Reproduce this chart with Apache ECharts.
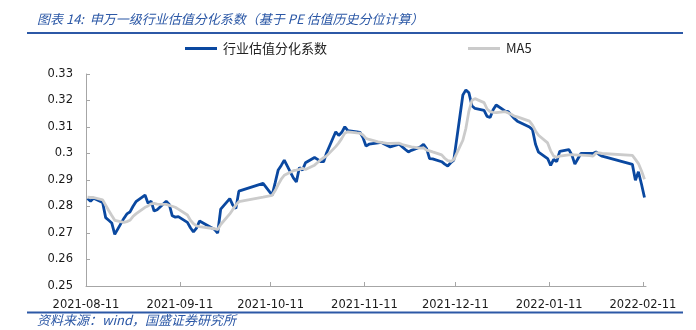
<!DOCTYPE html>
<html>
<head>
<meta charset="utf-8">
<script src="https://cdn.jsdelivr.net/npm/echarts@6/dist/echarts.min.js"></script>
<style>
  html, body { margin: 0; padding: 0; background: #ffffff; }
  #chart { width: 696px; height: 330px; }
</style>
</head>
<body>
<div id="chart"></div>
<script>
// Trading days covered by the series
const tradeDates = [
  '2021-08-11','2021-08-12','2021-08-13','2021-08-16','2021-08-17','2021-08-18','2021-08-19','2021-08-20',
  '2021-08-23','2021-08-24','2021-08-25','2021-08-26','2021-08-27','2021-08-30','2021-08-31',
  '2021-09-01','2021-09-02','2021-09-03','2021-09-06','2021-09-07','2021-09-08','2021-09-09','2021-09-10',
  '2021-09-13','2021-09-14','2021-09-15','2021-09-16','2021-09-17','2021-09-22','2021-09-23','2021-09-24',
  '2021-09-27','2021-09-28','2021-09-29','2021-09-30',
  '2021-10-08','2021-10-11','2021-10-12','2021-10-13','2021-10-14','2021-10-15','2021-10-18','2021-10-19',
  '2021-10-20','2021-10-21','2021-10-22','2021-10-25','2021-10-26','2021-10-27','2021-10-28','2021-10-29',
  '2021-11-01','2021-11-02','2021-11-03','2021-11-04','2021-11-05','2021-11-08','2021-11-09','2021-11-10',
  '2021-11-11','2021-11-12','2021-11-15','2021-11-16','2021-11-17','2021-11-18','2021-11-19','2021-11-22',
  '2021-11-23','2021-11-24','2021-11-25','2021-11-26','2021-11-29','2021-11-30',
  '2021-12-01','2021-12-02','2021-12-03','2021-12-06','2021-12-07','2021-12-08','2021-12-09','2021-12-10',
  '2021-12-13','2021-12-14','2021-12-15','2021-12-16','2021-12-17','2021-12-20','2021-12-21','2021-12-22',
  '2021-12-23','2021-12-24','2021-12-27','2021-12-28','2021-12-29','2021-12-30','2021-12-31',
  '2022-01-04','2022-01-05','2022-01-06','2022-01-07','2022-01-10','2022-01-11','2022-01-12','2022-01-13',
  '2022-01-14','2022-01-17','2022-01-18','2022-01-19','2022-01-20','2022-01-21','2022-01-24','2022-01-25',
  '2022-01-26','2022-01-27','2022-01-28',
  '2022-02-07','2022-02-08','2022-02-09','2022-02-10','2022-02-11'
];

// 行业估值分化系数
const dispersion = [
  0.2830,0.2820,0.2831,0.2815,0.2758,0.2748,0.2738,0.2695,
  0.2755,0.2772,0.2779,0.2800,0.2818,0.2843,0.2812,
  0.2820,0.2783,0.2788,0.2820,0.2808,0.2765,0.2760,0.2762,
  0.2740,0.2720,0.2704,0.2718,0.2745,0.2713,0.2700,0.2790,
  0.2830,0.2805,0.2792,0.2858,
  0.2887,0.2843,0.2890,0.2938,0.2955,0.2975,0.2908,0.2893,
  0.2947,0.2937,0.2965,0.2985,0.2978,0.2969,0.2969,0.3003,
  0.3082,0.3068,0.3080,0.3101,0.3086,0.3082,0.3080,0.3060,
  0.3028,0.3035,0.3040,0.3042,0.3036,0.3030,0.3025,0.3035,
  0.3025,0.3015,0.3006,0.3012,0.3025,0.3035,
  0.3019,0.2981,0.2980,0.2969,0.2960,0.2953,0.2965,0.2975,
  0.3221,0.3240,0.3229,0.3180,0.3170,0.3163,0.3140,0.3136,
  0.3165,0.3183,0.3160,0.3158,0.3145,0.3132,0.3122,
  0.3100,0.3090,0.3035,0.3005,0.2981,0.2955,0.2978,0.2969,
  0.3008,0.3015,0.2995,0.2960,0.2980,0.3000,0.3000,0.3000,
  0.3006,0.2996,0.2990,
  0.2959,0.2899,0.2931,0.2885,0.2834
];

// MA5
const ma5 = [
  0.2835,0.2834,0.2834,0.2825,0.2805,0.2785,0.2766,0.2748,
  0.2740,0.2743,0.2748,0.2762,0.2772,0.2797,0.2802,
  0.2810,0.2812,0.2809,0.2808,0.2804,0.2801,0.2797,0.2790,
  0.2768,0.2748,0.2735,0.2727,0.2724,0.2716,0.2713,0.2732,
  0.2772,0.2789,0.2805,0.2818,
  0.2835,0.2842,0.2860,0.2883,0.2903,0.2918,0.2935,0.2937,
  0.2940,0.2944,0.2940,0.2956,0.2966,0.2976,0.2984,0.2991,
  0.3026,0.3040,0.3057,0.3077,0.3082,0.3078,0.3077,0.3070,
  0.3057,0.3053,0.3044,0.3042,0.3040,0.3038,0.3038,0.3039,
  0.3034,0.3031,0.3028,0.3025,0.3020,0.3021,
  0.3013,0.3010,0.3006,0.2995,0.2982,0.2973,0.2970,0.2977,
  0.3050,0.3095,0.3160,0.3200,0.3207,0.3192,0.3168,0.3158,
  0.3155,0.3154,0.3158,0.3153,0.3148,0.3141,0.3138,
  0.3122,0.3107,0.3085,0.3069,0.3040,0.3010,0.2990,0.2986,
  0.2990,0.2995,0.2996,0.2995,0.2994,0.2994,0.2992,0.2990,
  0.3002,0.3002,0.3000,
  0.2993,0.2978,0.2962,0.2935,0.2903
];

// Date axis labels and its range
const xTickDates = ['2021-08-11','2021-09-11','2021-10-11','2021-11-11','2021-12-11','2022-01-11','2022-02-11'];
const xRange = ['2021-08-11', '2022-02-12'];
const yMin = 0.25, yMax = 0.33, yStep = 0.01;

const seriesNames = ['行业估值分化系数', 'MA5'];
const titleText = '图表 14:  申万一级行业估值分化系数（基于 PE 估值历史分位计算）';
const sourceText = '资料来源：wind，国盛证券研究所';

// The x axis counts calendar days from the first date of the range
const DAY = 24 * 3600 * 1000;
const utc = s => { const p = s.split('-').map(Number); return Date.UTC(p[0], p[1] - 1, p[2]); };
const origin = utc(xRange[0]);
const dayOf = s => Math.round((utc(s) - origin) / DAY);
const pad = n => (n < 10 ? '0' : '') + n;
const dateOf = day => {
  const d = new Date(origin + Math.round(day) * DAY);
  return d.getUTCFullYear() + '-' + pad(d.getUTCMonth() + 1) + '-' + pad(d.getUTCDate());
};
// each day's point sits in the middle of its day slot
const toSeries = vals => tradeDates.map((d, i) => [dayOf(d) + 0.5, vals[i]]);
const xTickDays = xTickDates.map(dayOf);

const BRAND = '#2c58a6';
const axisColor = '#a6a6a6';
const labelFont = { fontFamily: 'DejaVu Sans', fontSize: 11.5, color: '#1a1a1a' };
const colors = ['#0a48a0', '#cbcbcb'];

const chart = echarts.init(document.getElementById('chart'), null, { renderer: 'canvas' });
chart.setOption({
  animation: false,
  backgroundColor: '#ffffff',
  grid: { left: 86, right: 50, top: 74, bottom: 44, containLabel: false },
  legend: {
    left: 185, top: 42, padding: 0,
    icon: 'rect',
    itemWidth: 32, itemHeight: 3, itemGap: 141,
    textStyle: { fontFamily: 'Noto Sans CJK SC', fontSize: 13, color: '#222222', padding: [0, 0, 0, 1] },
    data: seriesNames
  },
  xAxis: {
    type: 'value',
    min: 0,
    max: dayOf(xRange[1]),
    axisLine: { lineStyle: { color: axisColor, width: 1 } },
    axisTick: { show: true, inside: true, length: 4, lineStyle: { color: axisColor },
                customValues: xTickDays },
    axisLabel: Object.assign({ margin: 13, customValues: xTickDays,
                formatter: v => dateOf(v) }, labelFont),
    splitLine: { show: false }
  },
  yAxis: {
    type: 'value',
    min: yMin, max: yMax, interval: yStep,
    axisLine: { show: true, lineStyle: { color: axisColor, width: 1 } },
    axisTick: { show: true, inside: true, length: 4, lineStyle: { color: axisColor } },
    axisLabel: Object.assign({ margin: 13 }, labelFont),
    splitLine: { show: false }
  },
  series: [
    {
      name: seriesNames[0], type: 'line', symbol: 'none',
      lineStyle: { color: colors[0], width: 2.8 }, itemStyle: { color: colors[0] },
      data: toSeries(dispersion), z: 2
    },
    {
      name: seriesNames[1], type: 'line', symbol: 'none',
      lineStyle: { color: colors[1], width: 2.8 }, itemStyle: { color: colors[1] },
      data: toSeries(ma5), z: 3
    }
  ],
  graphic: [
    { type: 'text', left: 37, top: 13,
      style: { text: titleText, fill: BRAND, font: 'italic 13px "Noto Sans CJK SC"' } },
    { type: 'line', shape: { x1: 27, y1: 33, x2: 683, y2: 33 },
      style: { stroke: BRAND, lineWidth: 2 } },
    { type: 'line', shape: { x1: 27, y1: 312.5, x2: 683, y2: 312.5 },
      style: { stroke: BRAND, lineWidth: 2 } },
    { type: 'text', left: 37, top: 314,
      style: { text: sourceText, fill: BRAND, font: 'italic 13px "Noto Sans CJK SC"' } }
  ]
});
</script>
</body>
</html>
